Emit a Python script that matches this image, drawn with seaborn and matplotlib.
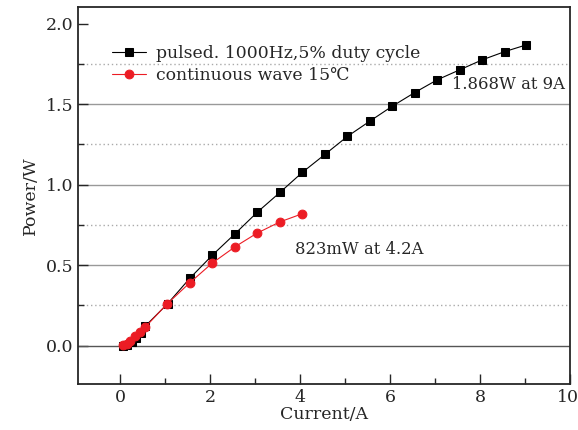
import matplotlib
matplotlib.use("Agg")
import matplotlib.pyplot as plt
import matplotlib.transforms as mtransforms
import seaborn as sns
import pandas as pd
from matplotlib.ticker import MultipleLocator

pulsed_x = [0.05, 0.15, 0.25, 0.35, 0.45, 0.55, 1.05, 1.55, 2.05, 2.55, 3.05, 3.55, 4.05,
            4.55, 5.05, 5.55, 6.05, 6.55, 7.05, 7.55, 8.05, 8.55, 9.02]
pulsed_y = [0.0, 0.005, 0.02, 0.05, 0.08, 0.12, 0.26, 0.42, 0.563, 0.695, 0.83, 0.952, 1.077,
            1.188, 1.30, 1.395, 1.488, 1.573, 1.652, 1.714, 1.776, 1.827, 1.868]
cw_x = [0.07, 0.14, 0.22, 0.33, 0.44, 0.55, 1.04, 1.55, 2.04, 2.56, 3.04, 3.55, 4.04]
cw_y = [0.005, 0.01, 0.03, 0.06, 0.087, 0.114, 0.259, 0.392, 0.512, 0.616, 0.699, 0.769, 0.819]

label_pulsed = "pulsed. 1000Hz,5% duty cycle"
label_cw = "continuous wave 15\u2103"

sns.set_style("ticks")
plt.rcParams["font.family"] = ["DejaVu Serif", "DejaVu Sans"]
plt.rcParams["mathtext.fontset"] = "dejavuserif"

fig = plt.figure(figsize=(5.78, 4.30), dpi=100)
ax = fig.add_axes([0.135, 0.107, 0.851, 0.877])

dp = pd.DataFrame({"x": pulsed_x, "y": pulsed_y})
dc = pd.DataFrame({"x": cw_x, "y": cw_y})

sns.lineplot(data=dp, x="x", y="y", ax=ax, color="black", lw=0.8, marker="s",
             markersize=5.5, markeredgecolor="black", label=label_pulsed, zorder=4)
sns.lineplot(data=dc, x="x", y="y", ax=ax, color="#ec1c24", lw=0.8, marker="o",
             markersize=6.3, markeredgecolor="#ec1c24", label=label_cw, zorder=5)

ax.set_xlim(-0.94, 10.0)
ax.set_ylim(-0.238, 2.105)
ax.xaxis.set_major_locator(MultipleLocator(2))
ax.xaxis.set_minor_locator(MultipleLocator(1))
ax.yaxis.set_major_locator(MultipleLocator(0.5))
ax.yaxis.set_minor_locator(MultipleLocator(0.25))
ax.yaxis.set_major_formatter(matplotlib.ticker.FormatStrFormatter("%.1f"))

for yv in [0.5, 1.0, 1.5]:
    ax.axhline(yv, color="#999999", lw=1.0, zorder=0)
for yv in [0.25, 0.75, 1.25, 1.75]:
    ax.axhline(yv, color="#aaaaaa", lw=1.0, ls=(0, (1, 2)), zorder=0)
ax.axhline(0, color="#555555", lw=1.0, zorder=1)

ax.tick_params(which="major", direction="in", length=7, width=1, labelsize=12.5,
               top=False, right=False)
ax.tick_params(which="minor", direction="in", length=4, width=1)
for s in ax.spines.values():
    s.set_linewidth(1.3)
    s.set_visible(True)

ax.set_xlabel("Current/A", fontsize=12.5, labelpad=0)
ax.set_ylabel("Power/W", fontsize=12.5, labelpad=5)

leg = ax.legend(loc="upper left", bbox_to_anchor=(0.056, 0.918), frameon=False,
                fontsize=12.4, handlelength=1.95, handletextpad=0.55, labelspacing=0.32,
                borderaxespad=0.0)

ax.text(3.88, 0.60, "823mW at 4.2A", fontsize=11.8, va="center", ha="left")
ax.text(7.38, 1.62, "1.868W at 9A", fontsize=11.8, va="center", ha="left")

# nudge the last x tick label so it stays inside the canvas
fig.canvas.draw()
for lbl in ax.get_xticklabels():
    if lbl.get_text() == "10":
        lbl.set_transform(lbl.get_transform() + mtransforms.ScaledTranslation(-2 / 100, 0, fig.dpi_scale_trans))

fig.savefig("out.png", dpi=100)
